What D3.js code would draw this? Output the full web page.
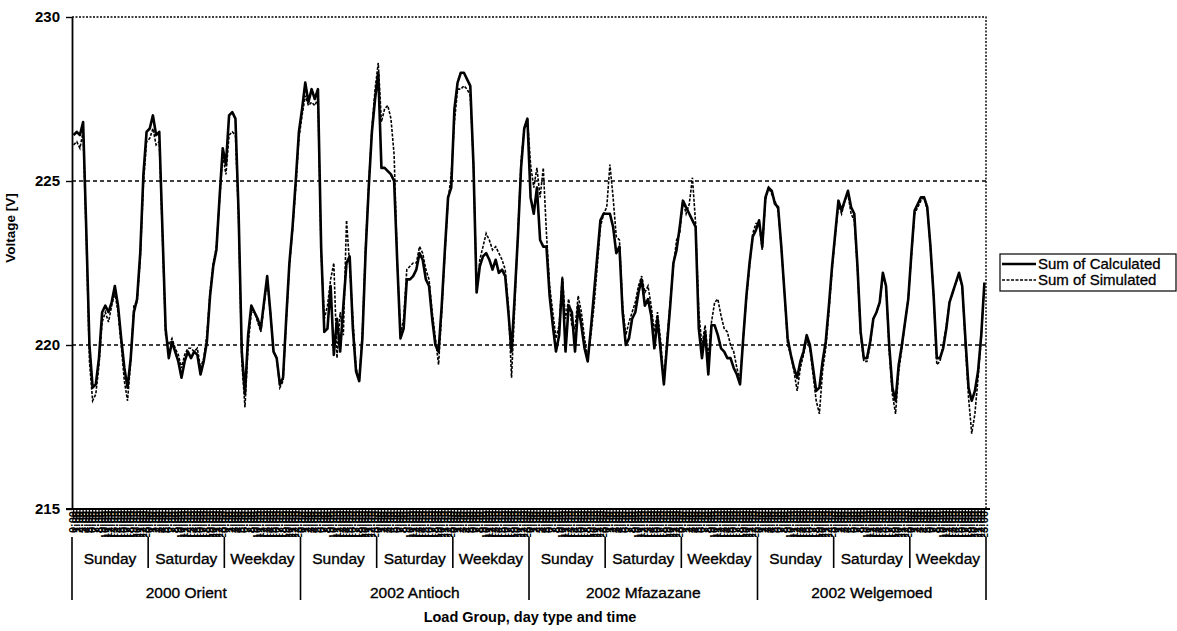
<!DOCTYPE html>
<html>
<head>
<meta charset="utf-8">
<script src="https://cdn.jsdelivr.net/npm/d3@7"></script>
<style>
  body { margin: 0; background: #fff; }
  svg { font-family: Arial, "Liberation Sans", sans-serif; }
</style>
</head>
<body>
<div class="chartContainer"></div>
<script>
const loadGroups = ["2000 Orient", "2002 Antioch", "2002 Mfazazane", "2002 Welgemoed"];
const dayTypes = ["Sunday", "Saturday", "Weekday"];
const hours = ["0:00", "1:00", "2:00", "3:00", "4:00", "5:00", "6:00", "7:00", "8:00", "9:00", "10:00", "11:00",
  "12:00", "13:00", "14:00", "15:00", "16:00", "17:00", "18:00", "19:00", "20:00", "21:00", "22:00", "23:00"];
const yTicks = [215, 220, 225, 230];

// hourly voltages per load group: Sunday, Saturday, Weekday
const orientCalc = [
  226.4, 226.5, 226.4, 226.8, 223.5, 220.0, 218.7, 218.8, 219.6, 221.0, 221.2, 221.0, 221.3, 221.8, 221.2, 220.2, 219.3, 218.7, 219.6, 221.0, 221.4, 222.8, 225.2, 226.5,
  226.6, 227.0, 226.4, 226.5, 223.5, 220.5, 219.6, 220.1, 219.8, 219.5, 219.0, 219.5, 219.8, 219.6, 219.8, 219.7, 219.1, 219.5, 220.1, 221.5, 222.4, 222.9, 224.5, 226.0,
  225.5, 227.0, 227.1, 226.9, 224.0, 219.8, 218.5, 220.3, 221.2, 221.0, 220.8, 220.5, 221.3, 222.1, 221.0, 219.8, 219.6, 218.8, 219.0, 220.8, 222.5, 223.6, 225.0, 226.5
];
const orientSim = [
  226.1, 226.2, 226.0, 226.5, 223.3, 219.5, 218.3, 218.5, 219.4, 220.7, 221.0, 220.7, 221.2, 221.6, 221.0, 220.0, 218.9, 218.3, 219.5, 221.2, 221.3, 222.6, 224.9, 226.2,
  226.3, 226.6, 226.1, 226.2, 223.3, 220.3, 220.0, 220.2, 219.9, 219.7, 219.3, 219.7, 219.9, 219.9, 219.8, 219.9, 219.3, 219.6, 220.3, 221.6, 222.5, 223.0, 224.4, 225.8,
  225.2, 226.4, 226.5, 226.4, 223.8, 219.5, 218.1, 220.0, 221.0, 221.0, 220.7, 220.4, 221.2, 222.0, 221.0, 219.8, 219.6, 218.7, 218.9, 220.7, 222.4, 223.5, 224.8, 226.3
];
const antiochCalc = [
  227.2, 228.0, 227.4, 227.8, 227.5, 227.8, 223.0, 220.4, 220.5, 221.8, 219.7, 220.8, 219.8, 221.2, 222.5, 222.7, 220.5, 219.2, 218.9, 220.2, 222.8, 224.8, 226.5, 227.5,
  228.3, 225.4, 225.4, 225.3, 225.2, 225.0, 222.5, 220.2, 220.5, 222.0, 222.0, 222.1, 222.3, 222.8, 222.6, 222.0, 221.8, 220.8, 220.0, 219.8, 221.2, 222.9, 224.5, 224.8,
  227.2, 228.0, 228.3, 228.3, 228.1, 227.9, 225.5, 221.6, 222.4, 222.7, 222.8, 222.6, 222.3, 222.6, 222.2, 222.3, 222.1, 221.0, 219.8, 221.5, 223.3, 225.4, 226.6, 226.9
];
const antiochSim = [
  227.0, 227.6, 227.3, 227.4, 227.3, 227.5, 222.8, 220.8, 221.2, 222.0, 222.5, 219.6, 221.0, 220.3, 223.8, 222.4, 220.8, 219.3, 218.9, 220.4, 223.0, 224.9, 226.6, 227.8,
  228.6, 226.8, 227.2, 227.3, 226.9, 225.8, 222.5, 220.3, 220.8, 222.3, 222.4, 222.5, 222.5, 223.0, 222.8, 222.3, 222.0, 221.0, 220.2, 219.4, 221.0, 222.8, 224.4, 225.2,
  226.8, 227.8, 227.8, 227.9, 227.8, 227.6, 225.5, 221.6, 222.6, 223.0, 223.4, 223.2, 222.9, 223.0, 222.8, 222.6, 222.3, 221.2, 219.0, 221.2, 223.4, 225.6, 226.6, 226.9
];
const mfazazaneCalc = [
  224.5, 224.0, 224.8, 223.2, 223.0, 223.0, 221.5, 220.6, 219.8, 220.3, 222.0, 219.8, 221.2, 221.0, 219.8, 221.2, 220.6, 219.9, 219.5, 220.5, 221.6, 222.7, 223.8, 224.0,
  224.0, 224.0, 223.6, 222.8, 223.0, 221.0, 220.0, 220.2, 220.8, 221.0, 221.6, 222.0, 221.2, 221.4, 220.9, 219.9, 220.8, 219.8, 218.8, 220.0, 221.2, 222.5, 222.9, 223.6,
  224.4, 224.2, 224.0, 223.8, 223.6, 220.5, 219.6, 220.4, 219.1, 220.6, 220.6, 220.3, 219.9, 219.8, 219.6, 219.6, 219.3, 219.1, 218.8, 220.2, 221.5, 222.5, 223.3, 223.5
];
const mfazazaneSim = [
  225.5, 224.8, 225.4, 224.5, 225.4, 223.4, 221.8, 221.0, 220.2, 220.6, 222.1, 220.8, 221.4, 220.6, 220.5, 221.5, 221.0, 220.2, 219.6, 220.3, 221.2, 222.4, 223.6, 224.0,
  224.2, 225.5, 224.5, 223.3, 223.2, 221.2, 220.3, 220.7, 221.0, 221.3, 221.8, 222.1, 221.6, 221.8, 221.2, 220.4, 221.0, 220.1, 218.9, 220.2, 221.3, 222.4, 223.2, 223.4,
  224.4, 224.0, 224.3, 225.1, 223.7, 221.0, 220.0, 220.6, 219.6, 220.7, 221.3, 221.4, 220.9, 220.5, 220.4, 220.0, 219.8, 219.3, 218.9, 220.2, 221.4, 222.4, 223.4, 223.7
];
const welgemoedCalc = [
  223.8, 223.0, 224.5, 224.8, 224.7, 224.3, 224.2, 223.0, 221.6, 220.2, 219.7, 219.3, 219.0, 219.5, 219.8, 220.3, 220.0, 219.3, 218.6, 218.7, 219.5, 220.1, 221.2, 222.4,
  223.4, 224.4, 224.1, 224.4, 224.7, 224.2, 224.0, 222.4, 220.4, 219.6, 219.6, 220.1, 220.8, 221.0, 221.3, 222.2, 221.8, 220.0, 218.7, 218.3, 219.4, 220.0, 220.7, 221.4,
  222.8, 224.1, 224.3, 224.5, 224.5, 224.2, 223.0, 221.5, 219.6, 219.6, 219.9, 220.5, 221.3, 221.6, 221.9, 222.2, 221.8, 220.2, 218.7, 218.3, 218.6, 219.2, 220.3, 221.9
];
const welgemoedSim = [
  223.7, 222.9, 224.4, 224.8, 224.6, 224.4, 224.1, 223.0, 221.6, 220.0, 219.7, 219.2, 218.6, 219.3, 219.7, 220.2, 219.9, 219.1, 218.3, 217.9, 219.2, 219.9, 221.0, 222.3,
  223.3, 224.3, 224.0, 224.4, 224.6, 224.0, 223.8, 222.3, 220.3, 219.5, 219.5, 220.0, 220.8, 221.0, 221.3, 222.1, 221.8, 219.8, 218.5, 217.9, 219.2, 219.9, 220.7, 221.4,
  222.7, 224.0, 224.2, 224.4, 224.5, 224.1, 223.0, 221.5, 219.4, 219.5, 220.0, 220.6, 221.3, 221.6, 221.9, 222.1, 221.8, 220.0, 218.4, 217.3, 217.9, 219.0, 220.2, 221.9
];

const calculated = [].concat(orientCalc, antiochCalc, mfazazaneCalc, welgemoedCalc);
const simulated = [].concat(orientSim, antiochSim, mfazazaneSim, welgemoedSim);

const dataset = calculated.map((v, i) => ({
  i: i,
  group: loadGroups[Math.floor(i / 72)],
  day: dayTypes[Math.floor(i / 24) % 3],
  hour: hours[i % 24],
  calc: v,
  sim: simulated[i]
}));

const w = 1177;
const h = 631;
const padLeft = 72, padRight = 986, padTop = 17, padBottom = 509;

const svg = d3.select(".chartContainer").append("svg")
  .attr("width", w).attr("height", h);

const xScale = d3.scaleBand()
  .domain(dataset.map(d => d.i))
  .range([padLeft, padRight])
  .padding(0);
const bw = xScale.bandwidth();
const xc = i => xScale(i) + bw / 2;

const yScale = d3.scaleLinear().domain([215, 230]).range([padBottom, padTop]);

// gridlines
svg.append("g").selectAll("line")
  .data([220, 225])
  .enter().append("line")
  .attr("x1", padLeft).attr("x2", padRight)
  .attr("y1", d => yScale(d)).attr("y2", d => yScale(d))
  .attr("stroke", "#000").attr("stroke-width", 1.4)
  .attr("stroke-dasharray", "4,3");

// plot border (top / right dotted)
svg.append("path")
  .attr("d", `M${padLeft},${padTop}H${padRight}V${padBottom}`)
  .attr("fill", "none").attr("stroke", "#000")
  .attr("stroke-width", 1.4).attr("stroke-dasharray", "2,1.5");

// Y axis
const yAxis = d3.axisLeft(yScale).tickValues(yTicks).tickSize(6).tickSizeOuter(0).tickPadding(6);
const yG = svg.append("g").attr("transform", `translate(${padLeft},0)`).call(yAxis);
yG.select(".domain").attr("stroke-width", 1.8);
yG.selectAll(".tick line").attr("stroke-width", 1.4);
yG.selectAll("text").style("font-size", "15px").style("font-weight", "bold")
  .style("font-family", "Arial, 'Liberation Sans', sans-serif").attr("fill", "#000");

svg.append("text")
  .attr("transform", `translate(15,228)rotate(-90)`)
  .attr("text-anchor", "middle")
  .style("font-size", "13.5px").style("font-weight", "bold")
  .text("Voltage [V]");

// X axis with dense hour labels (unreadable in the original, drawn as a dark band)
svg.append("clipPath").attr("id", "tickclip")
  .append("rect").attr("x", padLeft - 8).attr("y", 0).attr("width", padRight - padLeft + 16).attr("height", 28);

const xAxis = d3.axisBottom(xScale)
  .tickSize(10).tickSizeOuter(0)
  .tickFormat(i => dataset[i].hour);
const xG = svg.append("g")
  .attr("transform", `translate(0,${padBottom})`)
  .attr("clip-path", "url(#tickclip)")
  .call(xAxis);
xG.select(".domain").remove();
xG.selectAll(".tick line").attr("stroke", "#000").attr("stroke-width", 1.3);
xG.selectAll("text")
  .attr("transform", "rotate(-90)")
  .attr("x", -2).attr("y", 0).attr("dy", "0.32em")
  .attr("text-anchor", "end")
  .style("font-size", "11px").style("font-weight", "bold")
  .style("font-family", "Arial, 'Liberation Sans', sans-serif")
  .attr("fill", "#000");
svg.append("line").attr("x1", padLeft - 6).attr("x2", padRight + 4)
  .attr("y1", padBottom).attr("y2", padBottom).attr("stroke", "#000").attr("stroke-width", 2.2);

// multi-level category labels
const lvl = svg.append("g");
const dayStarts = d3.range(12).map(k => k * 24);
lvl.selectAll("line.day")
  .data(dayStarts.concat([288]))
  .enter().append("line")
  .attr("class", "day")
  .attr("x1", d => d === 288 ? padRight : xScale(d)).attr("x2", d => d === 288 ? padRight : xScale(d))
  .attr("y1", padBottom + 28)
  .attr("y2", d => d % 72 === 0 ? padBottom + 91 : padBottom + 59)
  .attr("stroke", "#000").attr("stroke-width", 1.6);
lvl.selectAll("text.day")
  .data(dayStarts)
  .enter().append("text")
  .attr("class", "day")
  .attr("x", d => xScale(d) + bw * 12)
  .attr("y", padBottom + 55)
  .attr("text-anchor", "middle")
  .style("font-size", "15.5px")
  .attr("stroke", "#000").attr("stroke-width", 0.35)
  .text(d => dataset[d].day);
lvl.selectAll("text.group")
  .data(loadGroups)
  .enter().append("text")
  .attr("class", "group")
  .attr("x", (d, k) => xScale(k * 72) + bw * 36)
  .attr("y", padBottom + 89)
  .attr("text-anchor", "middle")
  .style("font-size", "15.5px")
  .attr("stroke", "#000").attr("stroke-width", 0.35)
  .text(d => d);

svg.append("text")
  .attr("x", 530).attr("y", 622)
  .attr("text-anchor", "middle")
  .style("font-size", "14.5px").style("font-weight", "bold")
  .text("Load Group, day type and time");

// series
const lineCalc = d3.line().x(d => xc(d.i)).y(d => yScale(d.calc));
const lineSim = d3.line().x(d => xc(d.i)).y(d => yScale(d.sim));

svg.append("path").datum(dataset)
  .attr("d", lineCalc)
  .attr("fill", "none").attr("stroke", "#000")
  .attr("stroke-width", 2.6).attr("stroke-linejoin", "round");
svg.append("path").datum(dataset)
  .attr("d", lineSim)
  .attr("fill", "none").attr("stroke", "#000")
  .attr("stroke-width", 1.6).attr("stroke-dasharray", "3,1.5");

// legend
const legend = svg.append("g").attr("id", "legend");
legend.append("rect")
  .attr("x", 1000).attr("y", 254).attr("width", 176).attr("height", 37)
  .attr("fill", "#fff").attr("stroke", "#000").attr("stroke-width", 1.2);
const legendItems = [
  { name: "Sum of Calculated", width: 2.6, dash: null },
  { name: "Sum of Simulated", width: 1.6, dash: "3,1.5" }
];
legendItems.forEach((it, k) => {
  const yy = 264 + k * 16;
  legend.append("line")
    .attr("x1", 1002).attr("x2", 1036).attr("y1", yy).attr("y2", yy)
    .attr("stroke", "#000").attr("stroke-width", it.width)
    .attr("stroke-dasharray", it.dash);
  legend.append("text")
    .attr("x", 1038).attr("y", yy).attr("dy", "0.35em")
    .style("font-size", "15px")
    .attr("stroke", "#000").attr("stroke-width", 0.3)
    .text(it.name);
});
</script>
</body>
</html>
